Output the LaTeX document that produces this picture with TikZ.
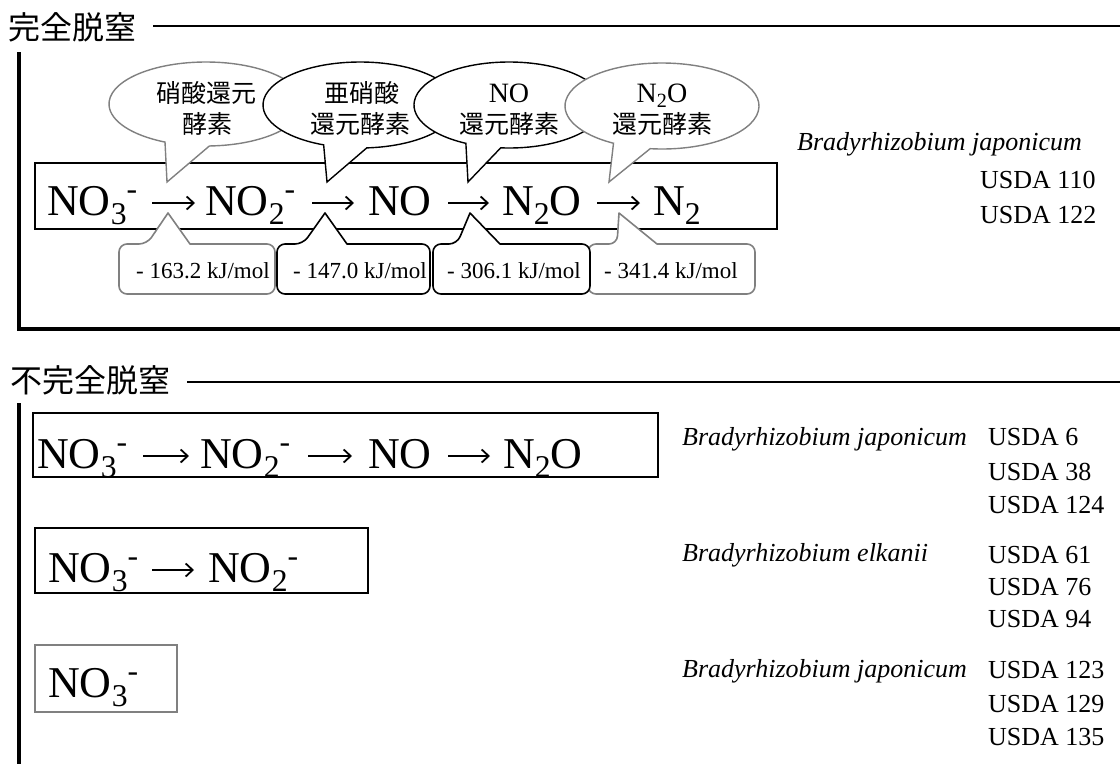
\documentclass[tikz,border=0pt]{standalone}
\usepackage{fontspec}
\usepackage{graphicx}
\setmainfont{Liberation Serif}
\newfontfamily\cjk{Noto Sans CJK JP}
\usetikzlibrary{calc,arrows.meta}
\newcommand\lo[1]{\raisebox{-0.21em}{\scalebox{0.72}{#1}}}
\newcommand\hi{\raisebox{0.36em}{\scalebox{0.72}{-}}}
\definecolor{lg}{gray}{0.5}
\begin{document}
\begin{tikzpicture}[x=1pt,y=-1pt,
  chem/.style={font=\fontsize{44}{48}\selectfont, inner sep=0pt, anchor=base west},
  chemarr/.style={line width=2pt, -{Straight Barb[length=7pt,width=13pt,line width=1.8pt]}},
  en/.style={font=\fontsize{23}{26}\selectfont, inner sep=0pt, anchor=base},
  bt/.style={font=\cjk\fontsize{25}{28}\selectfont, inner sep=0pt},
  bl/.style={font=\fontsize{28}{30}\selectfont, inner sep=0pt, anchor=base},
  sp/.style={font=\itshape\fontsize{26}{28}\selectfont, inner sep=0pt, anchor=base west},
  us/.style={font=\fontsize{26}{28}\selectfont, inner sep=0pt, anchor=base west},
  ttl/.style={font=\cjk\fontsize{32}{36}\selectfont, inner sep=0pt, anchor=west},
  bubK/.style={draw=black, fill=white, line width=1.4pt},
  bubG/.style={draw=lg, fill=white, line width=1.4pt},
  enK/.style={draw=black, fill=white, line width=1.6pt, line join=round},
  enG/.style={draw=lg, fill=white, line width=1.6pt, line join=round},
  sect/.style={line width=3.4pt}
]
\useasboundingbox (0,0) rectangle (1120,764);
\fill[white] (0,0) rectangle (1120,764);

% ---------- complete denitrification ----------
\node[ttl] (ttl1) at (8,27) {完全脱窒};
\draw[line width=2.6pt] (153,26) -- (1120,26);
\draw[sect] (19,52) -- (19,329) -- (1120,329);

% main box
\draw[line width=2.5pt] (35,163) rectangle (777,229);
\node[chem] (t1) at (47,215) {NO\lo{3}\hi};
\node[chem] (t2) at (205,215) {NO\lo{2}\hi};
\node[chem] (t3) at (368,215) {NO};
\node[chem] (t4) at (502,215) {N\lo{2}O};
\node[chem] (t5) at (653,215) {N\lo{2}};
\draw[chemarr] ([xshift=-53pt,yshift=12pt]t2.base west) -- ([xshift=-10pt,yshift=12pt]t2.base west);
\draw[chemarr] ([xshift=-56pt,yshift=12pt]t3.base west) -- ([xshift=-14pt,yshift=12pt]t3.base west);
\draw[chemarr] ([xshift=-54pt,yshift=12pt]t4.base west) -- ([xshift=-13pt,yshift=12pt]t4.base west);
\draw[chemarr] ([xshift=-56pt,yshift=12pt]t5.base west) -- ([xshift=-13pt,yshift=12pt]t5.base west);

% energy boxes
\draw[enG] (147,244) -- (168,213) -- (190,244) [rounded corners=8pt] -- (275,244) -- (275,294) -- (119,294) -- (119,244) -- cycle;
\node[en] (e1) at (203,278) {- 163.2 kJ/mol};
\draw[enG] (617,244) -- (619,213) -- (657,244) [rounded corners=8pt] -- (755,244) -- (755,294) -- (588,294) -- (588,244) -- cycle;
\node[en] (e4) at (671,278) {- 341.4 kJ/mol};
\draw[enK] (303,244) -- (325,213) -- (347,244) [rounded corners=8pt] -- (430,244) -- (430,294) -- (277,294) -- (277,244) -- cycle;
\node[en] (e2) at (360,278) {- 147.0 kJ/mol};
\draw[enK] (457,244) -- (470,213) -- (500,244) [rounded corners=8pt] -- (590,244) -- (590,294) -- (433,294) -- (433,244) -- cycle;
\node[en] (e3) at (514,278) {- 306.1 kJ/mol};

% bubbles
\draw[bubG] ($(206,104)+(88:97 and 42)$) arc[start angle=88, end angle=-245, x radius=97, y radius=42] -- (167,182) -- cycle;
\node[bt] (b1a) at (206,93) {硝酸還元};
\node[bt] (b1b) at (207,124) {酵素};
\draw[bubK] ($(360,105)+(86:97 and 43)$) arc[start angle=86, end angle=-248, x radius=97, y radius=43] -- (327,182) -- cycle;
\node[bt] (b2a) at (362,93) {亜硝酸};
\node[bt] (b2b) at (360,124) {還元酵素};
\draw[bubK] ($(509,105)+(95:95 and 43)$) arc[start angle=95, end angle=-243, x radius=95, y radius=43] -- (468,182) -- cycle;
\node[bl] (b3a) at (509,102) {NO};
\node[bt] (b3b) at (509,124) {還元酵素};
\draw[bubG] ($(662,106)+(97:97 and 43)$) arc[start angle=97, end angle=-240, x radius=97, y radius=43] -- (609,182) -- cycle;
\node[bl] (b4a) at (662,102) {N\lo{2}O};
\node[bt] (b4b) at (662,124) {還元酵素};

% strains (top)
\node[sp] (s0) at (797,150) {Bradyrhizobium japonicum};
\node[us] (u110) at (980,188) {USDA 110};
\node[us] (u122) at (980,223) {USDA 122};

% ---------- incomplete denitrification ----------
\node[ttl] (ttl2) at (10,380) {不完全脱窒};
\draw[line width=1.8pt] (187,382) -- (1120,382);
\draw[sect] (19,403) -- (19,764);

% box A
\draw[line width=1.7pt] (33,413) rectangle (658,477);
\node[chem] (a1) at (37,468) {NO\lo{3}\hi};
\node[chem] (a2) at (200,468) {NO\lo{2}\hi};
\node[chem] (a3) at (368,468) {NO};
\node[chem] (a4) at (503,468) {N\lo{2}O};
\draw[chemarr] ([xshift=-57pt,yshift=12pt]a2.base west) -- ([xshift=-11pt,yshift=12pt]a2.base west);
\draw[chemarr] ([xshift=-60pt,yshift=12pt]a3.base west) -- ([xshift=-16pt,yshift=12pt]a3.base west);
\draw[chemarr] ([xshift=-55pt,yshift=12pt]a4.base west) -- ([xshift=-13pt,yshift=12pt]a4.base west);

% box B
\draw[line width=2.4pt] (35,528) rectangle (368,593);
\node[chem] (bb1) at (48,582) {NO\lo{3}\hi};
\node[chem] (bb2) at (208,582) {NO\lo{2}\hi};
\draw[chemarr] ([xshift=-56pt,yshift=12pt]bb2.base west) -- ([xshift=-14pt,yshift=12pt]bb2.base west);

% box C
\draw[lg, line width=2pt] (35,645) rectangle (177,712);
\node[chem] (c1) at (48,697) {NO\lo{3}\hi};

% strains (bottom)
\node[sp] (s1) at (682,445) {Bradyrhizobium japonicum};
\node[us] (u6) at (988,445) {USDA 6};
\node[us] (u38) at (988,480) {USDA 38};
\node[us] (u124) at (988,513) {USDA 124};
\node[sp] (s2) at (682,561) {Bradyrhizobium elkanii};
\node[us] (u61) at (988,563) {USDA 61};
\node[us] (u76) at (988,595) {USDA 76};
\node[us] (u94) at (988,627) {USDA 94};
\node[sp] (s3) at (682,677) {Bradyrhizobium japonicum};
\node[us] (u123) at (988,678) {USDA 123};
\node[us] (u129) at (988,712) {USDA 129};
\node[us] (u135) at (988,745) {USDA 135};
\end{tikzpicture}
\end{document}
